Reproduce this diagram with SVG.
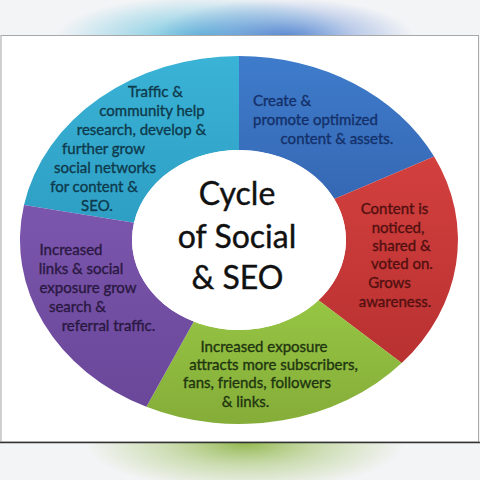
<svg xmlns="http://www.w3.org/2000/svg" width="480" height="480" viewBox="0 0 480 480">
  <defs>
    <radialGradient id="gTopC" cx="0.5" cy="0.5" r="0.5">
      <stop offset="0" stop-color="#4fb8d8" stop-opacity="0.95"/>
      <stop offset="0.5" stop-color="#6cc4de" stop-opacity="0.5"/>
      <stop offset="1" stop-color="#6cc4de" stop-opacity="0"/>
    </radialGradient>
    <radialGradient id="gTopB" cx="0.5" cy="0.5" r="0.5">
      <stop offset="0" stop-color="#4a78cc" stop-opacity="0.9"/>
      <stop offset="0.5" stop-color="#6a8fd6" stop-opacity="0.45"/>
      <stop offset="1" stop-color="#6a8fd6" stop-opacity="0"/>
    </radialGradient>
    <radialGradient id="gBot" cx="0.5" cy="0.5" r="0.5">
      <stop offset="0" stop-color="#8fb548" stop-opacity="0.95"/>
      <stop offset="0.5" stop-color="#a8c772" stop-opacity="0.5"/>
      <stop offset="1" stop-color="#a8c772" stop-opacity="0"/>
    </radialGradient>
    <linearGradient id="fCyan" x1="0" y1="0" x2="0" y2="1">
      <stop offset="0" stop-color="#3ab3d6"/>
      <stop offset="1" stop-color="#2e9fc4"/>
    </linearGradient>
    <linearGradient id="fBlue" x1="0" y1="0" x2="0" y2="1">
      <stop offset="0" stop-color="#3e7ccb"/>
      <stop offset="1" stop-color="#3668b4"/>
    </linearGradient>
    <linearGradient id="fRed" x1="0" y1="0" x2="0" y2="1">
      <stop offset="0" stop-color="#d2403e"/>
      <stop offset="1" stop-color="#b93131"/>
    </linearGradient>
    <linearGradient id="fGreen" x1="0" y1="0" x2="0" y2="1">
      <stop offset="0" stop-color="#96c543"/>
      <stop offset="1" stop-color="#85ad39"/>
    </linearGradient>
    <linearGradient id="fPurple" x1="0" y1="0" x2="0" y2="1">
      <stop offset="0" stop-color="#7b56ad"/>
      <stop offset="1" stop-color="#6a4799"/>
    </linearGradient>
    <clipPath id="cTop"><rect x="0" y="0" width="480" height="35"/></clipPath>
    <clipPath id="cBot"><rect x="0" y="443" width="480" height="37"/></clipPath>
  </defs>
  <style>
    .lbl { font-family: Lato, "Liberation Sans", sans-serif; font-size: 15px; text-anchor: middle; stroke-width: 0.35px; }
    .ttl { font-family: Lato, "Liberation Sans", sans-serif; font-size: 32px; text-anchor: middle; fill: #111111; stroke: #111111; stroke-width: 0.4px; }
    .tc { fill: #0e3a4c; stroke: #0e3a4c; }
    .tb { fill: #14306a; stroke: #14306a; }
    .tr { fill: #521010; stroke: #521010; }
    .tg { fill: #1f3510; stroke: #1f3510; }
    .tp { fill: #2a1842; stroke: #2a1842; }
  </style>

  <!-- background -->
  <rect x="0" y="0" width="480" height="480" fill="#f3f4f6"/>
  <g clip-path="url(#cTop)">
    <ellipse cx="205" cy="38" rx="150" ry="42" fill="url(#gTopC)"/>
    <ellipse cx="285" cy="38" rx="130" ry="40" fill="url(#gTopB)"/>
  </g>
  <g clip-path="url(#cBot)">
    <ellipse cx="245" cy="443" rx="160" ry="48" fill="url(#gBot)"/>
  </g>
  <rect x="1" y="35.5" width="477.5" height="406.5" fill="#ffffff" stroke="#a8a8a8" stroke-width="1"/>
  <line x1="0" y1="442.5" x2="480" y2="442.5" stroke="#333333" stroke-width="1.6"/>

  <!-- ring segments -->
  <g id="seg-cyan">
    <path d="M24,204.9 A219,184 0 0 1 239,56 L239,150 A107,90 0 0 0 134,222.8 Z" fill="url(#fCyan)"/>
    <text class="lbl tc" x="155.5" y="97">Traffic &amp;</text>
    <text class="lbl tc" x="152" y="116">community help</text>
    <text class="lbl tc" x="141.5" y="135">research, develop &amp;</text>
    <text class="lbl tc" x="103.5" y="154">further grow</text>
    <text class="lbl tc" x="105" y="173">social networks</text>
    <text class="lbl tc" x="94" y="192">for content &amp;</text>
    <text class="lbl tc" x="97" y="211">SEO.</text>
  </g>
  <g id="seg-blue">
    <path d="M239,56 A219,184 0 0 1 434.1,156.5 L334.3,199.1 A107,90 0 0 0 239,150 Z" fill="url(#fBlue)"/>
    <text class="lbl tb" x="282" y="106">Create &amp;</text>
    <text class="lbl tb" x="315.5" y="125">promote optimized</text>
    <text class="lbl tb" x="337" y="144">content &amp; assets.</text>
  </g>
  <g id="seg-red">
    <path d="M434.1,156.5 A219,184 0 0 1 401.7,363.1 L318.5,300.2 A107,90 0 0 0 334.3,199.1 Z" fill="url(#fRed)"/>
    <text class="lbl tr" x="394.5" y="214">Content is</text>
    <text class="lbl tr" x="398" y="233">noticed,</text>
    <text class="lbl tr" x="401.5" y="251">shared &amp;</text>
    <text class="lbl tr" x="402" y="269">voted on.</text>
    <text class="lbl tr" x="389.5" y="288">Grows</text>
    <text class="lbl tr" x="395" y="307">awareness.</text>
  </g>
  <g id="seg-green">
    <path d="M401.7,363.1 A219,184 0 0 1 146.4,406.8 L193.8,321.6 A107,90 0 0 0 318.5,300.2 Z" fill="url(#fGreen)"/>
    <text class="lbl tg" x="264" y="352">Increased exposure</text>
    <text class="lbl tg" x="273.5" y="370">attracts more subscribers,</text>
    <text class="lbl tg" x="257" y="388">fans, friends, followers</text>
    <text class="lbl tg" x="245.5" y="407">&amp; links.</text>
  </g>
  <g id="seg-purple">
    <path d="M146.4,406.8 A219,184 0 0 1 24,204.9 L134,222.8 A107,90 0 0 0 193.8,321.6 Z" fill="url(#fPurple)"/>
    <text class="lbl tp" x="71" y="255">Increased</text>
    <text class="lbl tp" x="81" y="274">links &amp; social</text>
    <text class="lbl tp" x="88" y="293">exposure grow</text>
    <text class="lbl tp" x="77.5" y="312">search &amp;</text>
    <text class="lbl tp" x="108.5" y="331">referral traffic.</text>
  </g>
  <g id="center">
    <ellipse cx="239" cy="240" rx="107" ry="90" fill="#ffffff"/>
    <text class="ttl" x="237" y="205">Cycle</text>
    <text class="ttl" x="237" y="248">of Social</text>
    <text class="ttl" x="237.5" y="289">&amp; SEO</text>
  </g>
</svg>
